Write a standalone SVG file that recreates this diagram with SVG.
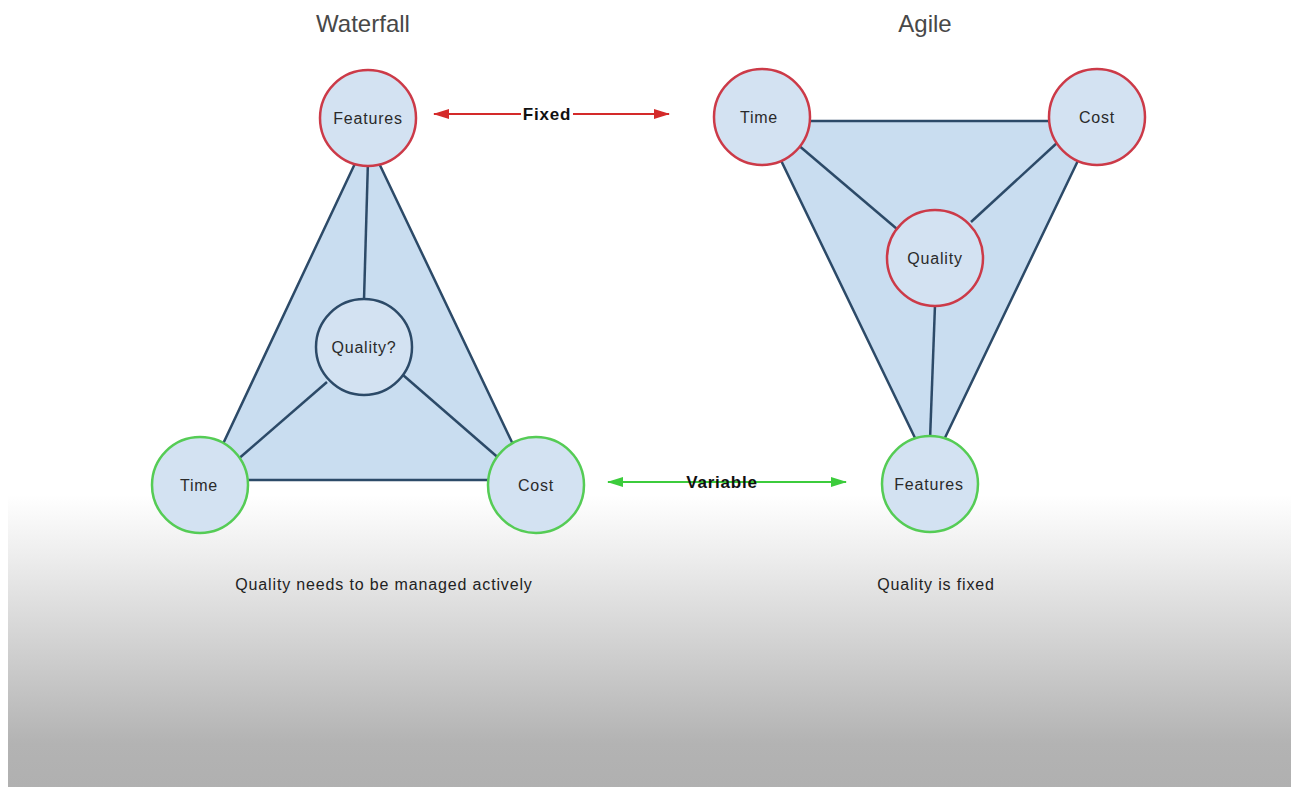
<svg xmlns="http://www.w3.org/2000/svg" width="1291" height="787" viewBox="0 0 1291 787">
<defs>
<linearGradient id="bg" x1="0" y1="0" x2="0" y2="1">
<stop offset="0" stop-color="#ffffff"/>
<stop offset="0.2" stop-color="#eeeeee"/>
<stop offset="0.85" stop-color="#b3b3b3"/>
<stop offset="1" stop-color="#b0b0b0"/>
</linearGradient>
<marker id="ar" viewBox="0 0 16 10" refX="15" refY="5" markerWidth="8" markerHeight="5" orient="auto-start-reverse" markerUnits="strokeWidth">
<path d="M0,0 L16,5 L0,10 z" fill="#d42a2a"/>
</marker>
<marker id="ag" viewBox="0 0 16 10" refX="15" refY="5" markerWidth="8" markerHeight="5" orient="auto-start-reverse" markerUnits="strokeWidth">
<path d="M0,0 L16,5 L0,10 z" fill="#3ccc3c"/>
</marker>
</defs>
<style>
.node{fill:#d3e2f2;stroke-width:2.5}
.red{stroke:#cc3a48}
.green{stroke:#55cc55}
.blue{stroke:#2c4a68;stroke-width:2.5}
.tri{fill:#c9ddf0;stroke:#2c4a68;stroke-width:2.5;stroke-linejoin:round}
.edge{stroke:#2c4a68;stroke-width:2.5;fill:none}
.lbl{font-family:"Liberation Sans",Arial,sans-serif;font-size:16px;letter-spacing:0.8px;fill:#2a2a2a;text-anchor:middle}
.title{font-family:"Liberation Sans",Arial,sans-serif;font-size:24px;fill:#484848;text-anchor:middle}
.cap{font-family:"Liberation Sans",Arial,sans-serif;font-size:16px;letter-spacing:0.85px;fill:#222;text-anchor:middle}
.arrl{font-family:"Liberation Sans",Arial,sans-serif;font-size:17px;letter-spacing:0.8px;font-weight:bold;fill:#111;text-anchor:middle}
</style>
<rect x="0" y="0" width="1291" height="787" fill="#ffffff"/>
<rect x="8" y="495" width="1283" height="292" fill="url(#bg)"/>

<text class="title" x="363" y="32">Waterfall</text>
<text class="title" x="925" y="32">Agile</text>

<g id="connectors">
<polygon class="tri" points="367,138 206,480 530,480"/>
<line class="edge" x1="368" y1="160" x2="364" y2="300"/>
<line class="edge" x1="327" y1="382" x2="236" y2="461"/>
<line class="edge" x1="403" y1="375" x2="502" y2="461"/>
<polygon class="tri" points="762,121 1097,121 930,469"/>
<line class="edge" x1="797" y1="144" x2="897" y2="229"/>
<line class="edge" x1="1058" y1="142" x2="971" y2="222"/>
<line class="edge" x1="935" y1="305" x2="930" y2="440"/>
<line x1="434" y1="114" x2="521" y2="114" stroke="#d42a2a" stroke-width="2" marker-start="url(#ar)"/>
<line x1="573" y1="114" x2="669" y2="114" stroke="#d42a2a" stroke-width="2" marker-end="url(#ar)"/>
<text class="arrl" x="547" y="120">Fixed</text>
<line x1="608" y1="482" x2="846" y2="482" stroke="#3ccc3c" stroke-width="2" marker-start="url(#ag)" marker-end="url(#ag)"/>
<text class="arrl" x="722" y="488">Variable</text>
</g>

<g id="wf-features"><circle class="node red" cx="368" cy="118" r="48"/><text class="lbl" x="368" y="124">Features</text></g>
<g id="wf-quality"><circle class="node blue" cx="364" cy="347" r="48"/><text class="lbl" x="364" y="353">Quality?</text></g>
<g id="wf-time"><circle class="node green" cx="200" cy="485" r="48"/><text class="lbl" x="199" y="491">Time</text></g>
<g id="wf-cost"><circle class="node green" cx="536" cy="485" r="48"/><text class="lbl" x="536" y="491">Cost</text></g>

<g id="ag-time"><circle class="node red" cx="762" cy="117" r="48"/><text class="lbl" x="759" y="123">Time</text></g>
<g id="ag-cost"><circle class="node red" cx="1097" cy="117" r="48"/><text class="lbl" x="1097" y="123">Cost</text></g>
<g id="ag-quality"><circle class="node red" cx="935" cy="258" r="48"/><text class="lbl" x="935" y="264">Quality</text></g>
<g id="ag-features"><circle class="node green" cx="930" cy="484" r="48"/><text class="lbl" x="929" y="490">Features</text></g>

<text class="cap" x="384" y="590">Quality needs to be managed actively</text>
<text class="cap" x="936" y="590">Quality is fixed</text>
</svg>
